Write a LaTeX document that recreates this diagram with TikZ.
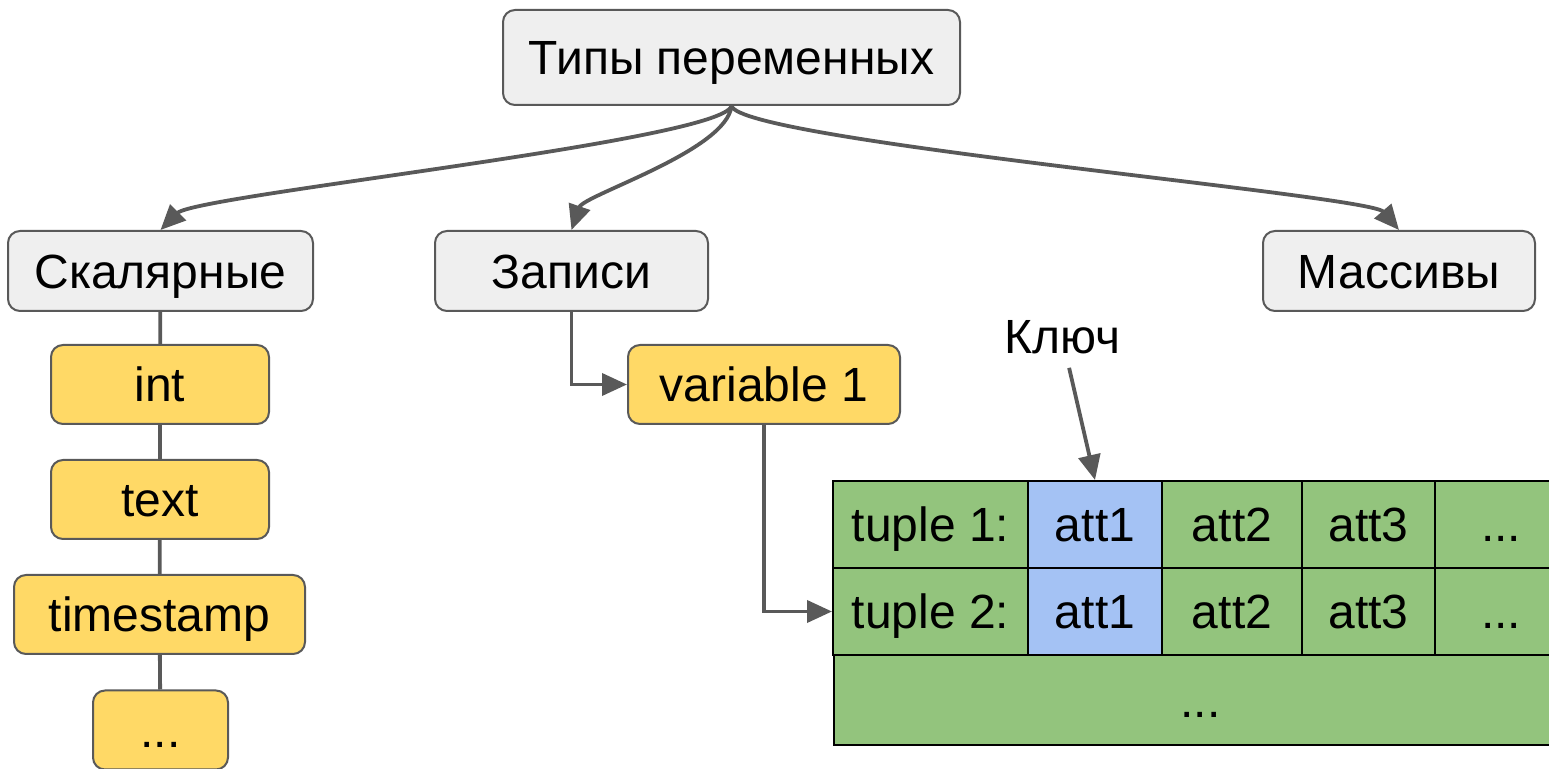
\documentclass[tikz,border=0pt]{standalone}
\usepackage{fontspec}
\setmainfont{Liberation Sans}
\usetikzlibrary{arrows.meta}
\definecolor{boxgray}{HTML}{EFEFEF}
\definecolor{linegray}{HTML}{595959}
\definecolor{boxyellow}{HTML}{FFD966}
\definecolor{cellgreen}{HTML}{93C47D}
\definecolor{cellblue}{HTML}{A4C2F4}
\begin{document}
\begin{tikzpicture}[x=0.5pt, y=-0.5pt]
%styles
\tikzstyle{typebox}=[rectangle, rounded corners=6pt, draw=linegray, line width=1pt, fill=boxgray, minimum height=40pt, text height=22pt, text depth=4.5pt, font=\fontsize{24}{28}\selectfont]
\tikzstyle{valbox}=[typebox, fill=boxyellow, minimum width=109pt, minimum height=39.5pt]
\tikzstyle{cell}=[rectangle, draw=black, line width=1pt, fill=cellgreen, minimum height=43.5pt, inner sep=0pt, text height=22pt, text depth=4.5pt, font=\fontsize{24}{28}\selectfont]
\tikzstyle{link}=[draw=linegray, line width=1.9pt]
\tikzstyle{arr}=[link, -{Triangle[length=12.5pt, width=11pt]}]
\useasboundingbox (0,0) rectangle (1549,769);
%nodes
\node[typebox, minimum width=228.5pt, minimum height=47.5pt] (types) at (731.5,57.5) {Типы переменных};
\node[typebox, minimum width=152.5pt] (scal) at (160.5,271) {Скалярные};
\node[typebox, minimum width=136.5pt] (rec) at (571.5,271) {Записи};
\node[typebox, minimum width=136pt] (arrs) at (1399,271) {Массивы};
% scalar types
\node[valbox] (int) at (160,384.5) {int};
\node[valbox] (txt) at (160,499.5) {text};
\node[valbox, minimum width=145.5pt] (ts) at (159.5,614.5) {timestamp};
\node[valbox, minimum width=67.5pt] (more) at (160.5,730) {...};
\draw[link] (scal) -- (int) -- (txt) -- (ts) -- (more);
% record
\node[valbox, minimum width=136pt] (var) at (764,384.5) {variable 1};
\draw[arr] (rec.south) |- (var.west);
%table
\node[cell, minimum width=97.5pt] (r1c0) at (930.5,524.5) {tuple 1:};
\node[cell, minimum width=67pt, fill=cellblue] (r1c1) at (1095,524.5) {att1};
\node[cell, minimum width=70pt] (r1c2) at (1232,524.5) {att2};
\node[cell, minimum width=66.5pt] (r1c3) at (1368.5,524.5) {att3};
\node[cell, minimum width=66pt] (r1c4) at (1501,524.5) {...};
\node[cell, minimum width=97.5pt] (r2c0) at (930.5,611.5) {tuple 2:};
\node[cell, minimum width=67pt, fill=cellblue] (r2c1) at (1095,611.5) {att1};
\node[cell, minimum width=70pt] (r2c2) at (1232,611.5) {att2};
\node[cell, minimum width=66.5pt] (r2c3) at (1368.5,611.5) {att3};
\node[cell, minimum width=66pt] (r2c4) at (1501,611.5) {...};
\node[cell, minimum width=367pt, minimum height=45pt] (rest) at (1200.5,700) {...};
\draw[arr] (var.south) |- (r2c0.west);
% key
\node[font=\fontsize{24}{28}\selectfont, inner sep=1pt] (key) at (1062,337) {Ключ};
\draw[arr, shorten <=6pt] (key) -- (r1c1.north);
%curves
\draw[arr] (types.south) .. controls +(-11,35) and +(35,-35) .. (scal.north);
\draw[arr] (types.south) .. controls +(-5,45) and +(12,-35) .. (rec.north);
\draw[arr] (types.south) .. controls +(11,35) and +(-30,-35) .. (arrs.north);
\end{tikzpicture}
\end{document}
